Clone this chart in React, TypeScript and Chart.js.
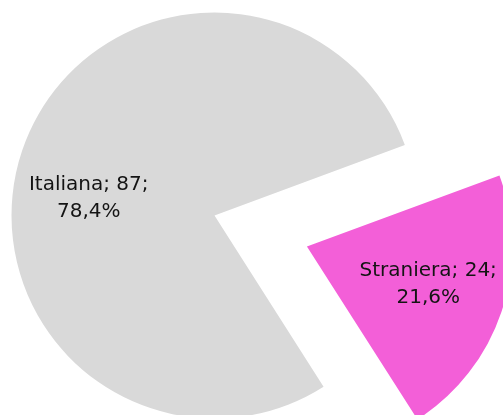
import React, { useEffect, useRef } from "react";
import { Chart, registerables } from "chart.js";

Chart.register(...registerables);

const categories = ["Italiana", "Straniera"];
const values = [87, 24];
const colors = ["#d9d9d9", "#f35fd8"];
const sliceOffsets = [0, 390];
const labelAngleShiftDeg = [-11, -1.5];

const pieLabels = {
  id: "pieLabels",
  afterDatasetsDraw(chart: any) {
    const ctx = chart.ctx;
    const meta = chart.getDatasetMeta(0);
    const data = chart.data.datasets[0].data as number[];
    const total = data.reduce((a, b) => a + b, 0);
    ctx.save();
    ctx.font = '20px "DejaVu Sans"';
    ctx.fillStyle = "#141414";
    ctx.textAlign = "center";
    ctx.textBaseline = "middle";
    meta.data.forEach((arc: any, i: number) => {
      const { x, y, startAngle, endAngle, outerRadius } = arc.getProps(
        ["x", "y", "startAngle", "endAngle", "outerRadius"],
        true
      );
      const off = (arc.options.offset || 0) / 4;
      const mid = (startAngle + endAngle) / 2;
      const cx = x + Math.cos(mid) * off;
      const cy = y + Math.sin(mid) * off;
      const a = mid + (labelAngleShiftDeg[i] * Math.PI) / 180;
      const r = outerRadius * 0.625;
      const lx = cx + Math.cos(a) * r;
      const ly = cy + Math.sin(a) * r;
      const pct = ((data[i] / total) * 100).toFixed(1).replace(".", ",");
      const lines = [`${chart.data.labels[i]}; ${data[i]};`, `${pct}%`];
      const lh = 27;
      lines.forEach((t, j) => {
        ctx.fillText(t, lx, ly + (j - (lines.length - 1) / 2) * lh);
      });
    });
    ctx.restore();
  },
};

export default function App() {
  const ref = useRef<HTMLCanvasElement>(null);
  useEffect(() => {
    document.body.style.margin = "0";
    const chart = new Chart(ref.current as HTMLCanvasElement, {
      type: "pie",
      data: {
        labels: categories,
        datasets: [
          {
            data: values,
            backgroundColor: colors,
            borderWidth: 0,
            offset: sliceOffsets,
          } as any,
        ],
      },
      options: {
        responsive: false,
        animation: false,
        events: [],
        rotation: 147.5,
        radius: 203,
        layout: { padding: { left: 0, right: 74, top: 16, bottom: 0 } },
        plugins: {
          legend: { display: false },
          tooltip: { enabled: false },
          title: { display: false },
        },
      } as any,
      plugins: [pieLabels],
    });
    return () => chart.destroy();
  }, []);
  return (
    <div style={{ width: 503, height: 415, background: "#fff" }}>
      <canvas ref={ref} width={503} height={415} style={{ display: "block" }} />
    </div>
  );
}
